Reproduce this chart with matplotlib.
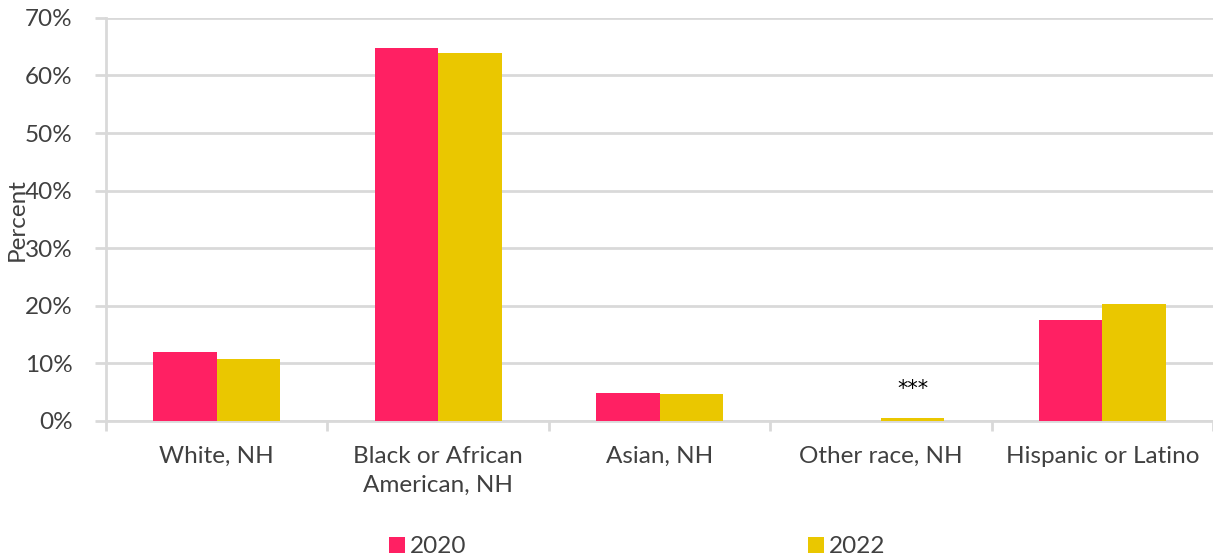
import matplotlib
matplotlib.use("Agg")
import matplotlib.pyplot as plt
import numpy as np
from matplotlib.ticker import PercentFormatter, FixedLocator

plt.rcParams["font.family"] = ["Lato", "DejaVu Sans"]

CATEGORIES = ["White, NH", "Black or African\nAmerican, NH", "Asian, NH", "Other race, NH", "Hispanic or Latino"]
SERIES = ["2020", "2022"]
VALUES_2020 = [12.0, 64.8, 4.8, 0.0, 17.5]
VALUES_2022 = [10.8, 63.9, 4.7, 0.5, 20.3]
NOTES_2022 = ["", "", "", "***", ""]

COLORS = ["#FF2063", "#EAC700"]
GRID = "#D9D9D9"
TEXT = "#404040"
FS = 17.5

fig = plt.figure(figsize=(12.13, 5.59), dpi=100)
ax = fig.add_axes([0.0874, 0.247, 0.9126, 0.721])

x = np.arange(len(CATEGORIES))
width = 0.287
bars_a = ax.bar(x - width / 2, VALUES_2020, width, color=COLORS[0], label=SERIES[0], zorder=3)
bars_b = ax.bar(x + width / 2, VALUES_2022, width, color=COLORS[1], label=SERIES[1], zorder=3)

for rect, note in zip(bars_b, NOTES_2022):
    if note:
        ax.text(rect.get_x() + rect.get_width() / 2, rect.get_height() + 5, note,
                ha="center", va="center", fontsize=15, color="black", family="DejaVu Sans")

ax.set_xlim(-0.5, len(CATEGORIES) - 0.5)
ax.set_ylim(0, 70)
ax.yaxis.set_major_locator(FixedLocator(np.arange(0, 71, 10)))
ax.yaxis.set_major_formatter(PercentFormatter(decimals=0))
ax.grid(axis="y", color=GRID, linewidth=2, zorder=0)

ax.set_xticks(x)
ax.set_xticklabels(CATEGORIES, linespacing=1.45, va="top")
ax.set_xticks(np.arange(-0.5, len(CATEGORIES)), minor=True)
ax.tick_params(axis="x", which="major", length=0, pad=18, labelsize=FS, labelcolor=TEXT)
ax.tick_params(axis="x", which="minor", length=7, width=2, color=GRID)
ax.tick_params(axis="y", length=8, width=2, color=GRID, labelsize=FS, labelcolor=TEXT, pad=16)

for side in ["top", "right"]:
    ax.spines[side].set_visible(False)
ax.spines["left"].set_color(GRID)
ax.spines["left"].set_linewidth(2)
ax.spines["bottom"].set_color(GRID)
ax.spines["bottom"].set_linewidth(2)

ax.set_ylabel("Percent", fontsize=FS, color=TEXT)
ax.yaxis.set_label_coords(-0.071, 0.5)

fig.legend(loc="lower left", bbox_to_anchor=(0.303, -0.036), ncol=2, frameon=False,
           fontsize=FS, labelcolor=TEXT, handlelength=0.65, handleheight=0.65,
           handletextpad=0.2, columnspacing=14.05)

fig.savefig("out.png", dpi=100)
